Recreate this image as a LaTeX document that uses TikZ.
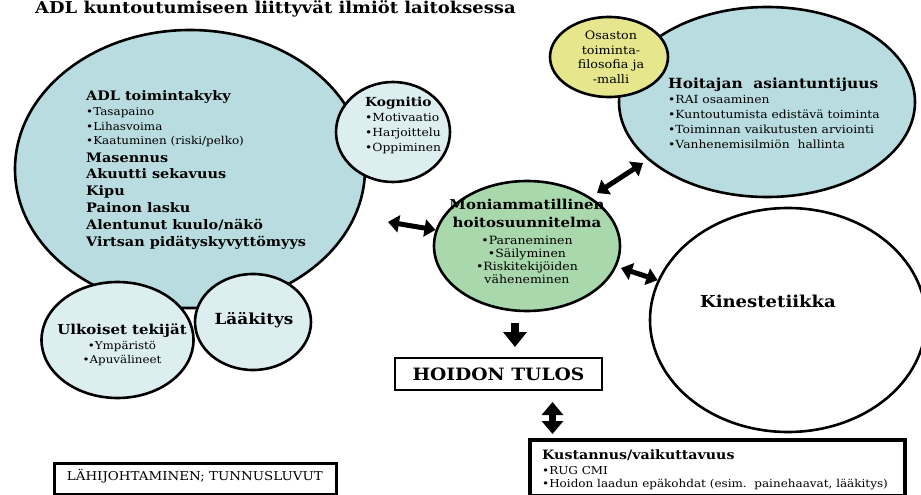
\documentclass[tikz,border=0pt]{standalone}
\usepackage{fontspec}
\setmainfont{DejaVu Serif}[FakeStretch=1.1]
\usetikzlibrary{shapes.geometric,arrows.meta}

\definecolor{adlblue}{HTML}{B8DCE0}
\definecolor{paleblue}{HTML}{DCEEF0}
\definecolor{plangreen}{HTML}{A9D8AD}
\definecolor{philyellow}{HTML}{E6E78C}

\newcommand\fsz[2]{\fontsize{#1}{#2}\selectfont}

\tikzset{
  bubble/.style={ellipse, draw=black, line width=2.6pt, inner sep=0pt},
  txt/.style={inner sep=0pt, align=left, anchor=north west},
  ctxt/.style={inner sep=0pt, align=center, anchor=north},
  dblarrow/.style={line width=5pt,
    {Triangle[length=11pt,width=17pt]}-{Triangle[length=11pt,width=17pt]}},
  downarrow/.style={line width=8pt, -{Triangle[length=15pt,width=23pt]}},
  vdblarrow/.style={line width=7pt,
    {Triangle[length=13pt,width=21pt]}-{Triangle[length=13pt,width=21pt]}},
  framebox/.style={draw=black, line width=2.6pt, inner sep=0pt}
}

\begin{document}
\begin{tikzpicture}[x=1pt,y=-1pt]
\clip (0,0) rectangle (921,495);
\fill[white] (0,0) rectangle (921,495);

% title
\node[inner sep=0pt, anchor=base west, font=\bfseries\fsz{16.3}{20}] (title) at (35,14)
  {ADL kuntoutumiseen liittyvät ilmiöt laitoksessa};

% bubbles
\node[bubble, fill=adlblue, minimum width=350pt, minimum height=278pt] (adl) at (190,169) {};
\node[bubble, fill=paleblue, minimum width=114pt, minimum height=100pt] (kog) at (393,132) {};
\node[bubble, fill=paleblue, minimum width=152pt, minimum height=116pt] (ulk) at (117.5,340) {};
\node[bubble, fill=paleblue, minimum width=116pt, minimum height=96pt] (laak) at (253,322) {};
\node[bubble, fill=adlblue, minimum width=296pt, minimum height=190pt] (hoit) at (767,102) {};
\node[bubble, fill=philyellow, minimum width=118pt, minimum height=80pt] (osa) at (609,57) {};
\node[bubble, fill=white, minimum width=276pt, minimum height=224pt] (kin) at (788,320) {};
\node[bubble, fill=plangreen, minimum width=186pt, minimum height=130pt] (moni) at (527,246) {};

% bubble texts
\node[txt, font=\bfseries\fsz{13.1}{16.8}] (adltxt) at (86,90.8)
  {ADL toimintakyky\\[-1.8pt]
   {\mdseries\fsz{10.9}{13}•Tasapaino}\\[-2.6pt]
   {\mdseries\fsz{10.9}{13}•Lihasvoima}\\[-2.6pt]
   {\mdseries\fsz{10.9}{13}•Kaatuminen (riski/pelko)}\\[1pt]
   Masennus\\
   Akuutti sekavuus\\
   Kipu\\
   Painon lasku\\
   Alentunut kuulo/näkö\\
   Virtsan pidätyskyvyttömyys};

\node[txt, font=\fsz{11.2}{15}] (kogtxt) at (365,96.5)
  {{\bfseries\fsz{12.5}{15}Kognitio}\\
   •Motivaatio\\
   •Harjoittelu\\
   •Oppiminen};

\node[txt, font=\fsz{11.2}{15}] (hoittxt) at (668,77.5)
  {{\bfseries\fsz{14}{15}Hoitajan\ \ asiantuntijuus}\\
   •RAI osaaminen\\
   •Kuntoutumista edistävä toiminta\\
   •Toiminnan vaikutusten arviointi\\
   •Vanhenemisilmiön\ \ hallinta};

\node[ctxt, font=\fsz{11.6}{14.7}] (osatxt) at (611,30.5)
  {Osaston\\ toiminta-\\ filosofia ja\\ -malli};

\node[ctxt, font=\fsz{11.4}{13.3}] (monitxt) at (527,198.5)
  {{\bfseries\fsz{13.6}{13.3}Moniammatillinen}\\[5.1pt]
   {\bfseries\fsz{13.6}{13.3}hoitosuunnitelma}\\[3.3pt]
   •Paraneminen\\
   •Säilyminen\\
   •Riskitekijöiden\\
   väheneminen};

\node[ctxt, font=\fsz{10.8}{14.7}] (ulktxt) at (122,323.5)
  {{\bfseries\fsz{13.6}{14.7}Ulkoiset tekijät}\\
   •Ympäristö\\
   •Apuvälineet};

\node[inner sep=0pt, anchor=base, font=\bfseries\fsz{15.3}{16}] (laaktxt) at (254,324.3) {Lääkitys};
\node[inner sep=0pt, anchor=base, font=\bfseries\fsz{16.4}{18}] (kintxt) at (768,307) {Kinestetiikka};

% result and cost boxes
\node[framebox, minimum width=207pt, minimum height=32pt, font=\bfseries\fsz{17}{18}] (tulos) at (498.5,374) {HOIDON TULOS};
\node[framebox, line width=3.5pt, anchor=north west, minimum width=375pt, minimum height=56pt] (kust) at (528,438) {};
\node[txt, font=\fsz{10.9}{14}] (kusttxt) at (542,449.6)
  {{\bfseries\fsz{12.9}{14}Kustannus/vaikuttavuus}\\[1pt]
   •RUG CMI\\[-1pt]
   •Hoidon laadun epäkohdat (esim.\ \ painehaavat, lääkitys)};

\node[framebox, anchor=north west, minimum width=282pt, minimum height=31pt] (lahi) at (53,462) {};
\node[inner sep=0pt, anchor=base west, font=\fsz{12.2}{16}] (lahitxt) at (66.7,480.7) {LÄHIJOHTAMINEN; TUNNUSLUVUT};

% connectors
\coordinate (a1) at (388,222);
\draw[dblarrow] (a1) -- (moni.170);
\coordinate (a2s) at (597,193);
\coordinate (a2e) at (643,163);
\draw[dblarrow] (a2s) -- (a2e);
\coordinate (a3s) at (621,268);
\draw[dblarrow] (a3s) -- (kin.163);
\coordinate (d1) at (515,323);
\coordinate (d2) at (515,347);
\draw[downarrow] (d1) -- (d2);
\coordinate (v1) at (552.5,402);
\coordinate (v2) at (552.5,434);
\draw[vdblarrow] (v1) -- (v2);
\end{tikzpicture}
\end{document}
